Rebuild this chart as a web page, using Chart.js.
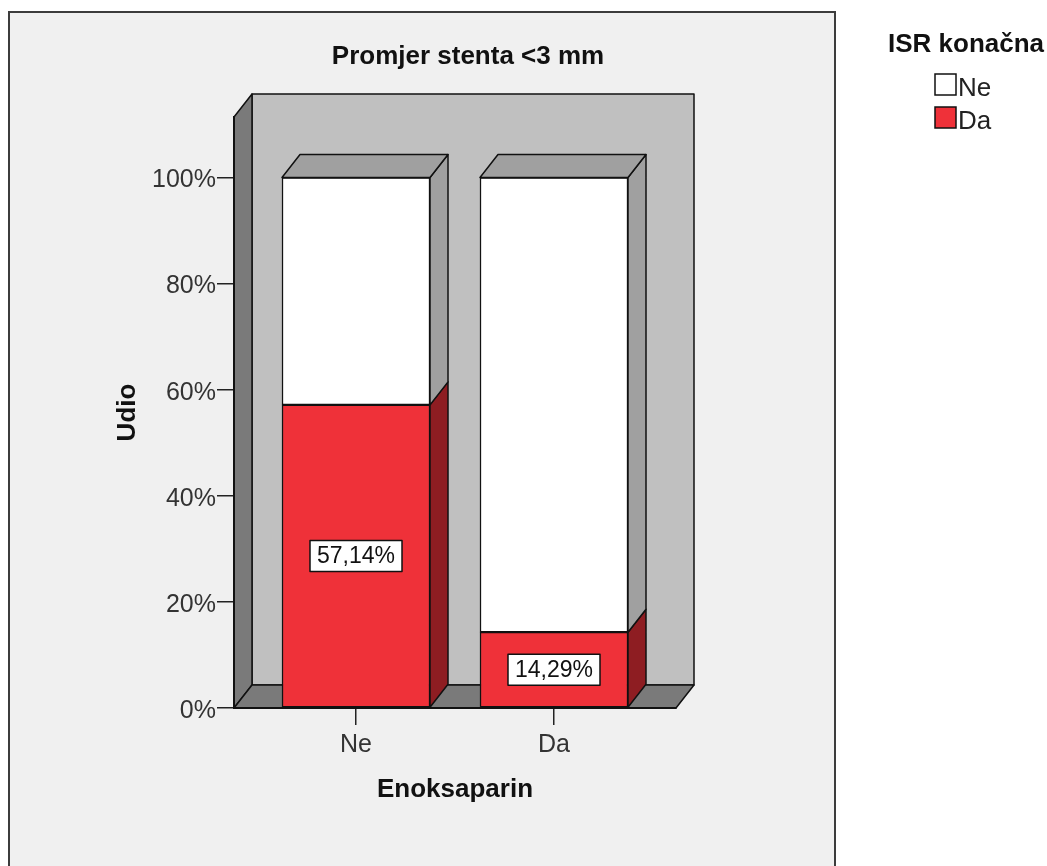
<!DOCTYPE html>
<html>
<head>
<meta charset="utf-8">
<title>Promjer stenta &lt;3 mm</title>
<script src="https://cdn.jsdelivr.net/npm/chart.js@4.4.0/dist/chart.umd.min.js"></script>
<style>
  html, body { margin: 0; padding: 0; background: #fff; }
  #wrap { width: 1047px; height: 866px; }
</style>
</head>
<body>
<div id="wrap"><canvas id="chart" width="1047" height="866"></canvas></div>
<script>
// Enoksaparin groups and share of ISR konačna (percent)
var categories = ['Ne', 'Da'];
var isrDa = [57.14, 14.29];
var isrNe = [42.86, 85.71];
var yTicks = [0, 20, 40, 60, 80, 100];

var FONT = '"Liberation Sans", Arial, sans-serif';
var DX = 18, DY = 23;          // depth of the 3d walls and bars
var RED = '#ef3139', RED_SIDE = '#8e1d22';
var WHITE = '#ffffff', WHITE_SIDE = '#a0a0a0';

function poly(ctx, pts, fill) {
    ctx.beginPath();
    ctx.moveTo(pts[0][0], pts[0][1]);
    for (var i = 1; i < pts.length; i++) ctx.lineTo(pts[i][0], pts[i][1]);
    ctx.closePath();
    ctx.fillStyle = fill;
    ctx.fill();
    ctx.stroke();
}

var box3d = {
    id: 'box3d',
    beforeDraw: function (chart) {
        var ctx = chart.ctx, a = chart.chartArea;
        ctx.save();
        ctx.fillStyle = '#ffffff';
        ctx.fillRect(0, 0, chart.width, chart.height);
        // outer frame
        ctx.fillStyle = '#f0f0f0';
        ctx.fillRect(9, 12, 826, 870);
        ctx.strokeStyle = '#3c3c3c';
        ctx.lineWidth = 2;
        ctx.strokeRect(9, 12, 826, 870);

        // walls and floor
        ctx.strokeStyle = '#111';
        ctx.lineWidth = 1.5;
        ctx.lineJoin = 'round';
        var L = a.left, R = a.right, T = a.top, B = a.bottom;
        poly(ctx, [[L + DX, T - DY], [R + DX, T - DY], [R + DX, B - DY], [L + DX, B - DY]], '#c0c0c0');
        poly(ctx, [[L, T], [L + DX, T - DY], [L + DX, B - DY], [L, B]], '#7a7a7a');
        poly(ctx, [[L, B], [L + DX, B - DY], [R + DX, B - DY], [R, B]], '#7a7a7a');
        ctx.restore();
    },
    afterDatasetsDraw: function (chart) {
        var ctx = chart.ctx;
        var last = chart.data.datasets.length - 1;
        ctx.save();
        ctx.strokeStyle = '#111';
        ctx.lineWidth = 1.5;
        ctx.lineJoin = 'round';
        chart.data.datasets.forEach(function (ds, di) {
            var meta = chart.getDatasetMeta(di);
            meta.data.forEach(function (bar) {
                var p = bar.getProps(['x', 'y', 'base', 'width'], true);
                var x1 = p.x - p.width / 2, x2 = p.x + p.width / 2;
                poly(ctx, [[x2, p.y], [x2 + DX, p.y - DY], [x2 + DX, p.base - DY], [x2, p.base]], ds.sideColor);
                if (di === last) {
                    poly(ctx, [[x1, p.y], [x1 + DX, p.y - DY], [x2 + DX, p.y - DY], [x2, p.y]], ds.sideColor);
                }
            });
        });

        // value labels on the Da segments
        var meta = chart.getDatasetMeta(0);
        ctx.font = '23px ' + FONT;
        ctx.textAlign = 'center';
        ctx.textBaseline = 'middle';
        meta.data.forEach(function (bar, i) {
            var p = bar.getProps(['x', 'y', 'base'], true);
            var txt = isrDa[i].toFixed(2).replace('.', ',') + '%';
            var w = ctx.measureText(txt).width + 14, h = 31;
            var cy = (p.y + p.base) / 2;
            ctx.fillStyle = '#fff';
            ctx.fillRect(p.x - w / 2, cy - h / 2, w, h);
            ctx.strokeRect(p.x - w / 2, cy - h / 2, w, h);
            ctx.fillStyle = '#111';
            ctx.fillText(txt, p.x, cy + 1);
        });
        ctx.restore();
    },
    afterDraw: function (chart) {
        var ctx = chart.ctx;
        ctx.save();
        ctx.fillStyle = '#111';
        ctx.textAlign = 'center';
        ctx.textBaseline = 'middle';
        ctx.font = 'bold 26px ' + FONT;
        ctx.fillText('Promjer stenta <3 mm', 468, 57);

        // legend
        ctx.fillText('ISR konačna', 966, 45);
        ctx.font = '26px ' + FONT;
        ctx.textAlign = 'left';
        ctx.strokeStyle = '#111';
        ctx.lineWidth = 1.5;
        var order = [1, 0];
        order.forEach(function (di, k) {
            var ds = chart.data.datasets[di];
            var y = 74 + k * 33;
            ctx.fillStyle = ds.backgroundColor;
            ctx.fillRect(935, y, 21, 21);
            ctx.strokeRect(935, y, 21, 21);
            ctx.fillStyle = '#222';
            ctx.fillText(ds.label, 958, y + 15);
        });
        ctx.restore();
    }
};

var ctx = document.getElementById('chart');
var myChart = new Chart(ctx, {
    type: 'bar',
    data: {
        datasets: [{
            label: 'Da',
            data: categories.map(function (c, i) { return { x: i, y: isrDa[i] }; }),
            backgroundColor: RED,
            sideColor: RED_SIDE,
            borderColor: '#111',
            borderWidth: 1.5,
            borderSkipped: false,
            barThickness: 148
        }, {
            label: 'Ne',
            data: categories.map(function (c, i) { return { x: i, y: isrNe[i] }; }),
            backgroundColor: WHITE,
            sideColor: WHITE_SIDE,
            borderColor: '#111',
            borderWidth: 1.5,
            borderSkipped: false,
            barThickness: 148
        }]
    },
    options: {
        responsive: false,
        animation: false,
        devicePixelRatio: 1,
        layout: { padding: { left: 100, right: 371, top: 117, bottom: 48 } },
        plugins: {
            legend: { display: false },
            tooltip: { enabled: false }
        },
        scales: {
            x: {
                type: 'linear',
                stacked: true,
                offset: false,
                min: -0.6162,
                max: 1.6162,
                afterBuildTicks: function (s) {
                    s.ticks = categories.map(function (c, i) { return { value: i }; });
                },
                afterFit: function (s) { s.height = 110; },
                grid: { offset: false, drawOnChartArea: false, drawTicks: true, tickLength: 17, color: '#222', lineWidth: 1.5 },
                border: { display: true, color: '#111', width: 2 },
                ticks: {
                    padding: 5,
                    color: '#333',
                    autoSkip: false,
                    maxRotation: 0,
                    font: { family: FONT, size: 25 },
                    callback: function (v) { return categories[v]; }
                },
                title: {
                    display: true,
                    text: 'Enoksaparin',
                    color: '#111',
                    font: { family: FONT, size: 26, weight: 'bold' },
                    padding: { top: 0, bottom: 12.4 }
                }
            },
            y: {
                stacked: true,
                min: 0,
                max: 111.4,
                afterBuildTicks: function (s) {
                    s.ticks = yTicks.map(function (v) { return { value: v }; });
                },
                afterFit: function (s) { s.width = 134; },
                grid: { drawOnChartArea: false, drawTicks: true, tickLength: 17, color: '#222', lineWidth: 1.5 },
                border: { display: true, color: '#111', width: 2 },
                ticks: {
                    padding: 1,
                    labelOffset: 3,
                    color: '#333',
                    font: { family: FONT, size: 25 },
                    callback: function (v) { return v + '%'; }
                },
                title: {
                    display: true,
                    text: 'Udio',
                    color: '#111',
                    font: { family: FONT, size: 26, weight: 'bold' },
                    padding: { top: 12.4, bottom: 0 }
                }
            }
        }
    },
    plugins: [box3d]
});
</script>
</body>
</html>
